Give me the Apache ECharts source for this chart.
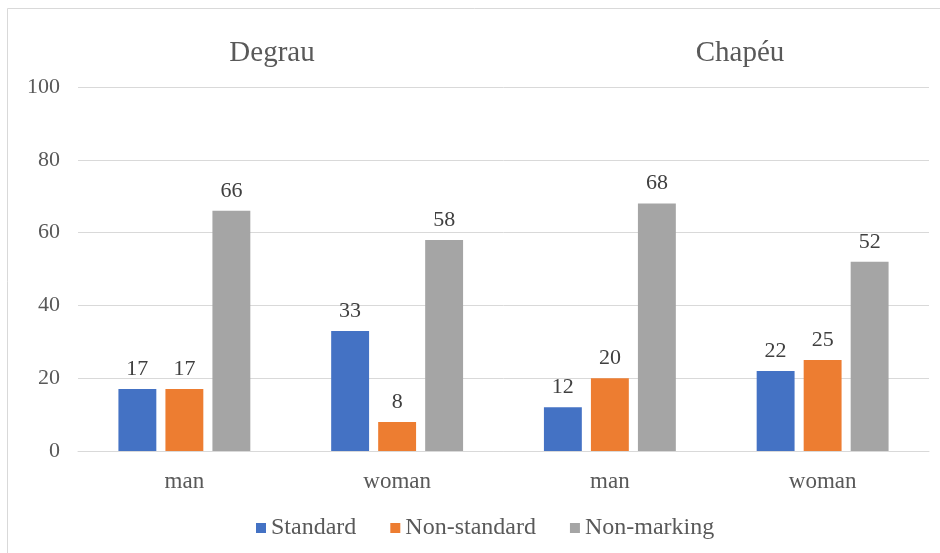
<!DOCTYPE html>
<html>
<head>
<meta charset="utf-8">
<script src="https://cdn.jsdelivr.net/npm/echarts@6/dist/echarts.min.js"></script>
<style>
  html, body { margin: 0; padding: 0; background: #ffffff; }
  #chart { width: 940px; height: 553px; }
</style>
</head>
<body>
<div id="chart"></div>
<script>
// Categories along the x axis: two groups (Degrau, Chapéu), each split by gender
const categories = ['man', 'woman', 'man', 'woman'];
const groupTitles = ['Degrau', 'Chapéu'];

// Percentages per marking type
const standard = [17, 33, 12, 22];
const nonStandard = [17, 8, 20, 25];
const nonMarking = [66, 58, 68, 52];

const seriesNames = ['Standard', 'Non-standard', 'Non-marking'];
const seriesColors = ['#4472C4', '#ED7D31', '#A5A5A5'];

const yTicks = { min: 0, max: 100, interval: 20 };

const FONT = '"Liberation Serif", "Times New Roman", serif';

const chart = echarts.init(document.getElementById('chart'));

const makeSeries = (name, data, color) => ({
  name,
  type: 'bar',
  data,
  barGap: '24%',
  barCategoryGap: '38%',
  itemStyle: { color },
  label: {
    show: true,
    position: 'top',
    distance: 9,
    color: '#404040',
    fontFamily: FONT,
    fontSize: 22
  }
});

chart.setOption({
  animation: false,
  backgroundColor: '#ffffff',
  title: [
    { text: groupTitles[0], left: 267, top: 34, textAlign: 'center',
      textStyle: { fontFamily: FONT, fontSize: 29, fontWeight: 'normal', color: '#595959' } },
    { text: groupTitles[1], left: 735, top: 34, textAlign: 'center',
      textStyle: { fontFamily: FONT, fontSize: 29, fontWeight: 'normal', color: '#595959' } }
  ],
  graphic: [{
    type: 'rect',
    shape: { x: 7.5, y: 8.5, width: 950, height: 560 },
    style: { fill: 'none', stroke: '#d9d9d9', lineWidth: 1 },
    silent: true
  }],
  legend: {
    data: seriesNames,
    left: 251,
    top: 511,
    icon: 'rect',
    itemWidth: 10,
    itemHeight: 10,
    itemGap: 34,
    textStyle: { fontFamily: FONT, fontSize: 24, color: '#595959' }
  },
  grid: { left: 78, right: 11, top: 87, bottom: 102, containLabel: false },
  xAxis: {
    type: 'category',
    data: categories,
    axisLine: { lineStyle: { color: '#d9d9d9' } },
    axisTick: { show: false },
    axisLabel: { fontFamily: FONT, fontSize: 23, color: '#595959', margin: 19 }
  },
  yAxis: {
    type: 'value',
    min: yTicks.min,
    max: yTicks.max,
    interval: yTicks.interval,
    axisLine: { show: false },
    axisTick: { show: false },
    splitLine: { lineStyle: { color: '#d9d9d9' } },
    axisLabel: { fontFamily: FONT, fontSize: 22, color: '#595959', margin: 18 }
  },
  series: [
    makeSeries(seriesNames[0], standard, seriesColors[0]),
    makeSeries(seriesNames[1], nonStandard, seriesColors[1]),
    makeSeries(seriesNames[2], nonMarking, seriesColors[2])
  ]
});
</script>
</body>
</html>
